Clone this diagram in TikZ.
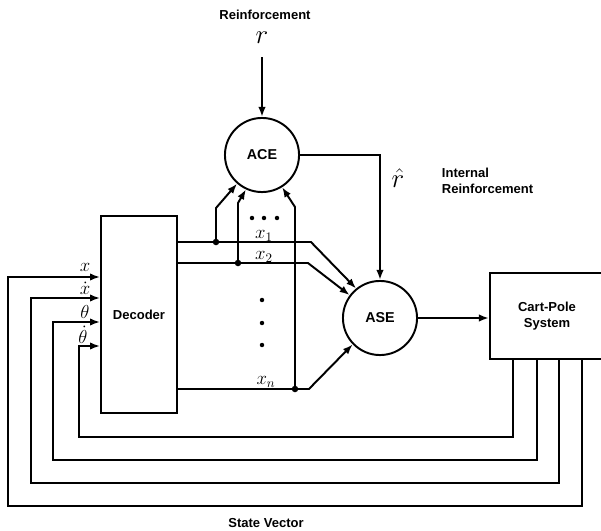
\documentclass[tikz,border=0pt]{standalone}
\usepackage{fontspec}
\setsansfont{Liberation Sans}
\usepackage{tikz}
\tikzset{>=latex}
\usetikzlibrary{
    positioning, % relative placement
    arrows.meta, % arrow tips
    calc % coordinate calculations
}

\begin{document}
\begin{tikzpicture}[
    x=0.027cm, y=-0.027cm,
    font=\sffamily,
    line width=1.5pt,
    arrow/.style={
        -{Latex[length=2.7mm,width=2mm]},
        line width=1.5pt,
        draw=black
    },
    unit/.style={
        draw=black,
        circle,
        minimum size=2cm,
        inner sep=0pt,
        font=\sffamily\bfseries\fontsize{11}{13}\selectfont
    },
    block/.style={
        draw=black,
        rectangle,
        align=center,
        inner sep=3pt,
        font=\sffamily\bfseries
    },
    caption/.style={
        align=center,
        inner sep=0pt,
        font=\sffamily\bfseries
    },
    mathlbl/.style={
        inner sep=0pt,
        font=\Large
    },
    junction/.style={
        circle,
        fill=black,
        inner sep=0pt,
        minimum size=5pt
    }
]

\useasboundingbox (0,0) rectangle (601,531);

% Units
\node[unit] (ace) at (262,155) {ACE};
\node[unit] (ase) at (380,318) {ASE};

% Blocks
\node[block, minimum width=2.05cm, minimum height=5.32cm] (decoder) at (139,314.5)
{Decoder};

\node[block, minimum width=3.08cm, minimum height=2.32cm] (cartpole) at (547,316)
{Cart-Pole\\System};

% Reinforcement
\node[caption] (reinf) at (265,15) {Reinforcement};
\node[mathlbl, font=\huge] (r) at (262,38) {$r$};
\coordinate (rin) at (262,57);

\node[mathlbl, font=\huge] (rhat) at (398,178) {$\hat{r}$};
\node[caption, align=left, anchor=west] (internal) at (441,181)
{Internal\\Reinforcement};

% State vector
\node[caption] (state) at (266,523) {State Vector};

% Input labels
\node[mathlbl] (lx) at (85,267) {$x$};
\node[mathlbl] (lxd) at (85,288) {$\dot{x}$};
\node[mathlbl] (lth) at (85,312) {$\theta$};
\node[mathlbl] (lthd) at (83,335) {$\dot{\theta}$};

% Output labels
\node[mathlbl] (lx1) at (264,236) {$x_1$};
\node[mathlbl] (lx2) at (264,257) {$x_2$};
\node[mathlbl] (lxn) at (266,382) {$x_n$};

% Junctions
\node[junction] (j1) at (216,242) {};
\node[junction] (j2) at (238,263) {};
\node[junction] (j3) at (295,389) {};

% Dots
\foreach \dx in {252,264,277}
    \fill (\dx,218) circle (1.7pt);
\foreach \dy in {300,323,345}
    \fill (262,\dy) circle (1.7pt);

% Reinforcement flow
\draw[arrow] (rin) -- (ace);
\draw[arrow] (ace.east) -| (ase.north);

% Decoder outputs into ASE
\draw[arrow] (decoder.east |- j1) -- ++(133,0) -- (ase.129);
\draw[arrow] (decoder.east |- j2) -- ++(130,0) -- (ase.143);
\draw[arrow] (decoder.east |- j3) -- ++(131,0) -- (ase.224);

% Branches into ACE
\draw[arrow] (j1.center) -- ++(0,-34) -- (ace.229);
\draw[arrow] (j2.center) -- ++(0,-60) -- (ace.245);
\draw[arrow] (j3.center) -- ++(0,-182) -- (ace.302);

% Action
\draw[arrow] (ase.east) -- (ase.east -| cartpole.west);

% State feedback
\foreach \xs/\yb/\xl/\yi in {582/506/8/277, 559/483/31/298, 537/460/53/322, 513/437/79/346}
    \draw[arrow] (\xs,0 |- cartpole.south) -- (\xs,\yb) -| (\xl,\yi)
    -- (decoder.west |- 0,\yi);

\end{tikzpicture}
\end{document}
